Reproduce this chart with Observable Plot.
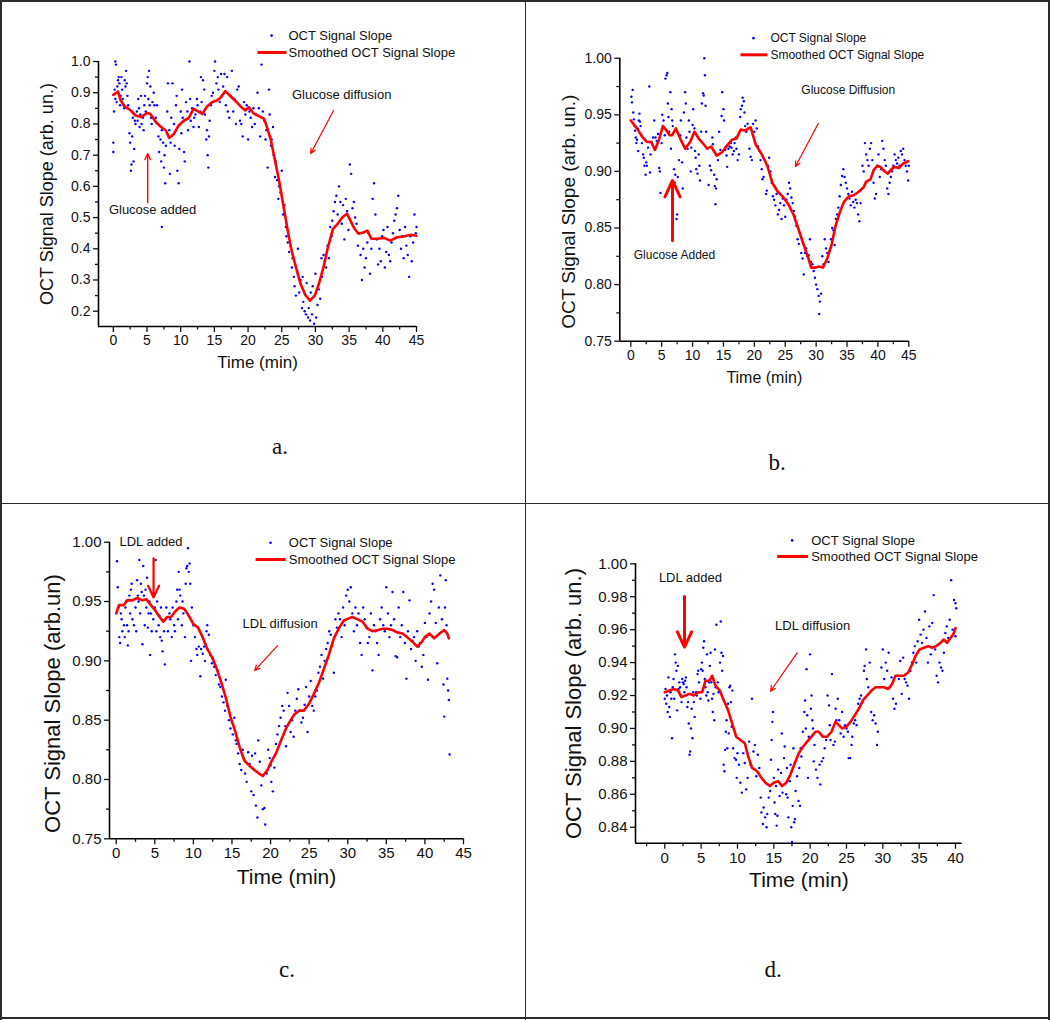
<!DOCTYPE html>
<html><head><meta charset="utf-8">
<script src="https://cdn.jsdelivr.net/npm/d3@7"></script>
<script src="https://cdn.jsdelivr.net/npm/@observablehq/plot@0.6"></script>
<style>
body{margin:0;background:#fff;}
#page{position:relative;width:1050px;height:1020px;background:#fff;overflow:hidden;}
.panel{position:absolute;}
.panel svg{display:block;overflow:visible;}
.rule{position:absolute;background:#2b2b2b;}
.tag{position:absolute;font-family:"Liberation Serif","Times New Roman",serif;font-size:23px;color:#111;transform:translate(-50%,-50%);white-space:nowrap;}
</style></head><body><div id="page"></div>
<script>
// ---------- DATA ----------
const seriesLabels = ["OCT Signal Slope", "Smoothed OCT Signal Slope"];
const xTitle = "Time (min)";
const yTitles = ["OCT Signal Slope (arb. un.)", "OCT Signal Slope (arb. un.)", "OCT Signal Slope (arb.un)", "OCT Signal Slope (arb. un.)"];
const panelTags = ["a.", "b.", "c.", "d."];

// Panel a: [time, value]
const aScatter = [[0.0,0.71],[0.0,0.74],[0.1,0.84],[0.2,0.91],[0.3,1.0],[0.4,0.99],[0.3,0.88],[0.5,0.87],[0.6,0.92],[0.7,0.94],[0.8,0.95],[0.9,0.93],[1.0,0.86],[1.1,0.89],[1.2,0.95],[1.3,0.91],[1.4,0.88],[1.5,0.86],[1.6,0.85],[1.7,0.94],[1.8,0.92],[1.9,0.97],[2.0,0.93],[2.1,0.89],[2.2,0.86],[2.4,0.77],[2.5,0.74],[2.6,0.65],[2.7,0.67],[2.8,0.76],[2.9,0.82],[3.0,0.68],[3.1,0.72],[3.2,0.81],[3.3,0.80],[3.5,0.84],[3.6,0.81],[3.7,0.88],[3.8,0.85],[3.9,0.79],[4.0,0.83],[4.1,0.89],[4.2,0.80],[4.4,0.82],[4.5,0.78],[4.6,0.86],[4.7,0.89],[4.8,0.84],[5.0,0.93],[5.1,0.95],[5.2,0.88],[5.3,0.97],[5.4,0.86],[5.5,0.92],[5.6,0.82],[5.7,0.80],[5.8,0.87],[6.0,0.90],[6.1,0.86],[6.3,0.82],[6.5,0.86],[6.7,0.76],[6.8,0.71],[7.0,0.75],[7.1,0.68],[7.2,0.78],[7.2,0.47],[7.4,0.74],[7.5,0.66],[7.6,0.70],[7.7,0.61],[7.8,0.73],[8.0,0.84],[8.1,0.93],[8.3,0.78],[8.4,0.64],[8.5,0.74],[8.6,0.82],[8.8,0.93],[9.0,0.80],[9.1,0.73],[9.3,0.86],[9.4,0.89],[9.5,0.65],[9.6,0.79],[9.7,0.61],[9.8,0.72],[10.0,0.84],[10.1,0.77],[10.2,0.91],[10.3,0.82],[10.5,0.71],[10.6,0.68],[10.8,0.87],[11.0,0.84],[11.1,0.78],[11.3,1.0],[11.4,0.88],[11.5,0.81],[11.7,0.85],[11.9,0.79],[12.0,0.82],[12.2,0.83],[12.4,0.88],[12.5,0.86],[12.7,0.79],[12.9,0.84],[13.0,0.95],[13.1,0.87],[13.3,0.94],[13.5,0.91],[13.6,0.83],[13.8,0.75],[13.9,0.78],[14.0,0.70],[14.1,0.66],[14.2,0.76],[14.3,0.81],[14.5,0.86],[14.6,0.89],[14.8,0.90],[15.0,0.97],[15.1,1.0],[15.3,0.93],[15.5,0.95],[15.6,0.91],[15.8,0.87],[16.0,0.96],[16.1,0.89],[16.3,0.92],[16.5,0.96],[16.7,0.86],[16.9,0.95],[17.0,0.84],[17.2,0.82],[17.4,0.89],[17.6,0.97],[17.8,0.84],[18.0,0.88],[18.2,0.80],[18.4,0.91],[18.6,0.92],[18.8,0.81],[19.0,0.80],[19.2,0.76],[19.4,0.87],[19.6,0.83],[19.8,0.86],[20.0,0.75],[20.2,0.84],[20.4,0.82],[20.6,0.79],[20.8,0.85],[21.0,0.80],[21.2,0.83],[21.4,0.90],[21.6,0.85],[21.8,0.76],[22.0,0.99],[22.2,0.84],[22.4,0.81],[22.6,0.75],[22.7,0.78],[22.9,0.66],[23.1,0.91],[23.2,0.83],[23.3,0.76],[23.4,0.73],[23.5,0.75],[23.7,0.79],[23.8,0.70],[24.0,0.63],[24.1,0.68],[24.3,0.62],[24.5,0.56],[24.6,0.60],[24.8,0.58],[25.0,0.65],[25.2,0.51],[25.4,0.54],[25.6,0.47],[25.7,0.44],[25.9,0.42],[26.1,0.39],[26.3,0.41],[26.5,0.34],[26.6,0.37],[26.8,0.31],[26.9,0.28],[27.1,0.25],[27.3,0.33],[27.4,0.40],[27.6,0.26],[27.8,0.30],[28.0,0.21],[28.1,0.31],[28.2,0.23],[28.4,0.20],[28.6,0.19],[28.7,0.29],[28.9,0.18],[29.0,0.21],[29.2,0.17],[29.3,0.26],[29.5,0.19],[29.6,0.28],[29.8,0.16],[30.0,0.32],[30.1,0.18],[30.3,0.22],[30.5,0.27],[30.7,0.24],[30.9,0.37],[31.0,0.31],[31.2,0.38],[31.4,0.36],[31.6,0.34],[31.8,0.41],[32.0,0.37],[32.2,0.47],[32.4,0.44],[32.5,0.49],[32.7,0.52],[32.9,0.55],[33.1,0.57],[33.3,0.51],[33.5,0.60],[33.7,0.55],[33.9,0.48],[34.1,0.54],[34.3,0.43],[34.5,0.56],[34.7,0.52],[34.9,0.46],[35.1,0.67],[35.3,0.64],[35.5,0.53],[35.7,0.55],[35.9,0.50],[36.1,0.48],[36.3,0.41],[36.5,0.45],[36.7,0.38],[36.9,0.30],[37.1,0.40],[37.3,0.34],[37.5,0.37],[37.7,0.42],[37.9,0.45],[38.1,0.32],[38.3,0.40],[38.5,0.56],[38.7,0.61],[38.9,0.51],[39.1,0.43],[39.3,0.35],[39.5,0.40],[39.7,0.36],[39.9,0.44],[40.1,0.46],[40.3,0.34],[40.5,0.39],[40.7,0.47],[40.9,0.38],[41.1,0.36],[41.3,0.42],[41.5,0.45],[41.7,0.49],[41.9,0.51],[42.1,0.53],[42.3,0.57],[42.5,0.46],[42.7,0.40],[42.9,0.44],[43.1,0.37],[43.3,0.47],[43.5,0.41],[43.7,0.38],[43.9,0.31],[44.1,0.44],[44.3,0.36],[44.5,0.42],[44.7,0.51],[44.9,0.45],[45.0,0.47]];
const aSmooth = [[0,0.893],[0.7,0.904],[1.1,0.875],[1.7,0.856],[2.6,0.843],[3.3,0.827],[4.1,0.822],[5.0,0.835],[5.5,0.832],[6.3,0.806],[7.0,0.792],[7.8,0.779],[8.3,0.755],[9.0,0.768],[9.7,0.795],[10.5,0.811],[11.2,0.819],[11.9,0.848],[12.5,0.841],[13.2,0.832],[13.9,0.856],[14.7,0.870],[15.4,0.875],[16.0,0.886],[16.6,0.905],[17.3,0.891],[18.2,0.872],[18.9,0.856],[19.6,0.843],[20.1,0.854],[20.8,0.834],[21.6,0.825],[22.4,0.816],[22.8,0.790],[23.4,0.747],[23.9,0.693],[24.6,0.619],[25.2,0.544],[25.8,0.469],[26.4,0.400],[27.1,0.341],[27.8,0.287],[28.5,0.252],[29.2,0.234],[29.9,0.250],[30.5,0.287],[31.2,0.341],[31.8,0.400],[32.6,0.464],[33.3,0.480],[34.0,0.501],[34.7,0.512],[35.2,0.490],[35.8,0.464],[36.4,0.448],[37.2,0.453],[37.7,0.458],[38.3,0.432],[39.2,0.432],[40.2,0.435],[41.1,0.426],[42.1,0.437],[43.1,0.439],[44.1,0.445],[45.0,0.442]];

// Panel b
const bScatter = [[0.1,0.966],[0.2,0.961],[0.3,0.972],[0.4,0.952],[0.5,0.946],[0.6,0.940],[0.7,0.936],[0.8,0.930],[0.9,0.925],[1.0,0.928],[1.1,0.938],[1.2,0.918],[1.3,0.945],[1.4,0.951],[1.5,0.944],[1.6,0.940],[1.7,0.932],[1.8,0.925],[2.0,0.915],[2.1,0.912],[2.2,0.905],[2.4,0.897],[2.5,0.908],[2.6,0.905],[2.8,0.921],[3.0,0.975],[3.1,0.899],[3.2,0.915],[3.4,0.926],[3.6,0.930],[3.8,0.945],[4.0,0.930],[4.2,0.927],[4.4,0.933],[4.6,0.903],[4.7,0.900],[4.8,0.881],[5.0,0.925],[5.1,0.950],[5.3,0.945],[5.5,0.932],[5.6,0.982],[5.8,0.985],[5.9,0.987],[6.0,0.960],[6.1,0.948],[6.2,0.935],[6.4,0.970],[6.5,0.920],[6.6,0.955],[6.7,0.945],[6.8,0.940],[7.0,0.902],[7.1,0.890],[7.2,0.897],[7.4,0.858],[7.5,0.862],[7.6,0.895],[7.8,0.910],[8.0,0.932],[8.1,0.945],[8.3,0.908],[8.4,0.885],[8.6,0.952],[8.8,0.970],[8.9,0.960],[9.0,0.930],[9.2,0.920],[9.4,0.945],[9.5,0.935],[9.7,0.900],[9.8,0.921],[10.0,0.941],[10.1,0.955],[10.3,0.938],[10.4,0.918],[10.5,0.912],[10.6,0.902],[10.8,0.898],[11.0,0.915],[11.1,0.905],[11.2,0.892],[11.4,0.935],[11.5,0.960],[11.7,0.969],[11.8,0.967],[11.9,1.000],[12.0,0.985],[12.1,0.958],[12.2,0.935],[12.4,0.920],[12.6,0.888],[12.8,0.905],[13.0,0.901],[13.2,0.930],[13.3,0.924],[13.5,0.897],[13.6,0.887],[13.7,0.871],[13.8,0.885],[13.9,0.893],[14.1,0.910],[14.3,0.935],[14.5,0.919],[14.7,0.949],[14.8,0.970],[15.0,0.955],[15.1,0.945],[15.3,0.919],[15.5,0.914],[15.6,0.904],[15.8,0.920],[16.0,0.922],[16.2,0.925],[16.3,0.921],[16.5,0.915],[16.7,0.918],[16.8,0.925],[17.0,0.930],[17.1,0.920],[17.3,0.910],[17.5,0.915],[17.7,0.948],[17.8,0.955],[18.0,0.958],[18.1,0.965],[18.3,0.962],[18.4,0.952],[18.5,0.940],[18.7,0.935],[18.9,0.942],[19.0,0.938],[19.2,0.920],[19.4,0.913],[19.6,0.910],[19.8,0.942],[20.0,0.935],[20.2,0.945],[20.4,0.938],[20.6,0.922],[20.8,0.918],[21.0,0.910],[21.2,0.902],[21.3,0.893],[21.5,0.895],[21.7,0.910],[21.9,0.880],[22.0,0.883],[22.2,0.905],[22.4,0.912],[22.6,0.900],[22.8,0.890],[23.0,0.878],[23.2,0.875],[23.4,0.870],[23.6,0.880],[23.8,0.862],[24.0,0.866],[24.2,0.872],[24.4,0.858],[24.6,0.876],[24.8,0.870],[25.0,0.860],[25.2,0.875],[25.4,0.880],[25.6,0.890],[25.8,0.885],[26.0,0.877],[26.2,0.872],[26.4,0.865],[26.6,0.860],[26.8,0.852],[27.0,0.840],[27.2,0.836],[27.4,0.845],[27.6,0.828],[27.8,0.823],[28.0,0.809],[28.2,0.828],[28.4,0.832],[28.6,0.825],[28.8,0.826],[29.0,0.840],[29.2,0.820],[29.4,0.818],[29.6,0.812],[29.8,0.806],[30.0,0.800],[30.2,0.796],[30.4,0.790],[30.5,0.774],[30.6,0.785],[30.8,0.792],[31.0,0.825],[31.2,0.818],[31.4,0.840],[31.6,0.832],[31.8,0.828],[32.0,0.820],[32.2,0.830],[32.4,0.840],[32.6,0.850],[32.8,0.848],[33.0,0.835],[33.2,0.858],[33.4,0.862],[33.6,0.868],[33.8,0.878],[34.0,0.888],[34.2,0.896],[34.4,0.902],[34.6,0.895],[34.8,0.890],[35.0,0.885],[35.2,0.880],[35.4,0.876],[35.6,0.870],[35.8,0.882],[36.0,0.873],[36.2,0.868],[36.4,0.875],[36.6,0.872],[36.8,0.862],[37.0,0.856],[37.2,0.872],[37.5,0.905],[37.7,0.900],[37.9,0.925],[38.1,0.915],[38.3,0.910],[38.5,0.905],[38.7,0.920],[38.9,0.925],[39.1,0.910],[39.3,0.890],[39.5,0.876],[39.7,0.880],[39.9,0.905],[40.1,0.915],[40.3,0.895],[40.5,0.902],[40.7,0.927],[40.9,0.920],[41.1,0.910],[41.3,0.905],[41.5,0.885],[41.7,0.880],[41.9,0.890],[42.1,0.895],[42.3,0.900],[42.5,0.905],[42.7,0.915],[42.9,0.910],[43.1,0.907],[43.3,0.912],[43.5,0.905],[43.7,0.918],[43.9,0.915],[44.1,0.920],[44.3,0.910],[44.5,0.905],[44.7,0.900],[44.9,0.892],[45.0,0.905]];
const bSmooth = [[0,0.945],[1.0,0.938],[1.8,0.931],[2.6,0.926],[3.3,0.926],[3.9,0.919],[4.5,0.927],[5.2,0.940],[5.8,0.936],[6.3,0.932],[6.7,0.932],[7.3,0.938],[8.0,0.929],[8.8,0.920],[9.6,0.926],[10.3,0.935],[11.0,0.929],[11.8,0.924],[12.4,0.920],[13.0,0.922],[13.9,0.914],[14.8,0.917],[15.6,0.923],[16.4,0.928],[17.1,0.929],[17.8,0.937],[18.5,0.936],[19.4,0.939],[20.2,0.924],[21.2,0.915],[22.1,0.905],[22.9,0.890],[23.8,0.882],[24.7,0.877],[25.6,0.870],[26.4,0.861],[27.2,0.848],[28.0,0.835],[28.7,0.824],[29.2,0.815],[29.9,0.815],[30.5,0.816],[31.1,0.815],[31.8,0.823],[32.5,0.835],[33.1,0.851],[33.9,0.865],[34.5,0.873],[35.3,0.878],[36.1,0.879],[36.9,0.882],[37.7,0.886],[38.1,0.891],[38.8,0.893],[39.3,0.901],[39.9,0.905],[40.4,0.904],[40.9,0.901],[41.6,0.898],[42.2,0.902],[42.7,0.904],[43.4,0.903],[44.1,0.907],[44.9,0.909]];

// Panel c
const cScatter = [[0.1,0.984],[0.2,0.962],[0.3,0.945],[0.4,0.920],[0.5,0.915],[0.6,0.940],[0.7,0.935],[0.8,0.925],[1.0,0.930],[1.1,0.920],[1.2,0.945],[1.3,0.950],[1.4,0.930],[1.5,0.913],[1.6,0.925],[1.7,0.955],[1.8,0.940],[1.9,0.960],[2.0,0.965],[2.1,0.935],[2.3,0.930],[2.4,0.952],[2.5,0.945],[2.6,0.925],[2.7,0.968],[2.8,0.955],[2.9,0.950],[3.0,0.985],[3.1,0.940],[3.2,0.965],[3.3,0.958],[3.4,0.914],[3.5,0.980],[3.6,0.955],[3.7,0.930],[3.8,0.960],[3.9,0.945],[4.0,0.970],[4.1,0.928],[4.2,0.940],[4.3,0.950],[4.4,0.905],[4.5,0.940],[4.6,0.925],[4.8,0.935],[4.9,0.955],[5.0,0.945],[5.1,0.985],[5.2,0.925],[5.3,0.950],[5.5,0.930],[5.6,0.938],[5.7,0.920],[5.8,0.945],[5.9,0.917],[6.0,0.908],[6.2,0.925],[6.3,0.897],[6.4,0.935],[6.5,0.945],[6.7,0.925],[6.9,0.940],[7.0,0.935],[7.2,0.920],[7.3,0.945],[7.5,0.930],[7.6,0.925],[7.8,0.950],[7.9,0.960],[8.0,0.935],[8.1,0.975],[8.2,0.960],[8.3,0.955],[8.5,0.930],[8.6,0.950],[8.7,0.940],[8.9,0.920],[9.0,0.965],[9.1,0.978],[9.2,0.980],[9.3,0.995],[9.4,0.975],[9.5,0.982],[9.6,0.965],[9.7,0.900],[9.8,0.945],[10.0,0.930],[10.2,0.920],[10.4,0.910],[10.5,0.905],[10.7,0.912],[10.9,0.887],[11.0,0.910],[11.2,0.906],[11.4,0.912],[11.5,0.900],[11.7,0.925],[11.8,0.930],[12.0,0.922],[12.2,0.905],[12.4,0.898],[12.5,0.902],[12.7,0.895],[12.9,0.888],[13.1,0.892],[13.3,0.880],[13.5,0.878],[13.7,0.870],[13.9,0.865],[14.1,0.858],[14.2,0.884],[14.4,0.862],[14.6,0.850],[14.8,0.843],[15.0,0.848],[15.1,0.838],[15.3,0.852],[15.5,0.833],[15.6,0.830],[15.8,0.822],[16.0,0.813],[16.2,0.808],[16.4,0.825],[16.5,0.818],[16.7,0.805],[16.9,0.798],[17.1,0.823],[17.3,0.813],[17.5,0.790],[17.6,0.820],[17.8,0.787],[18.0,0.822],[18.1,0.778],[18.3,0.768],[18.4,0.833],[18.6,0.815],[18.8,0.795],[19.0,0.775],[19.2,0.776],[19.3,0.762],[19.5,0.805],[19.7,0.825],[19.9,0.818],[20.0,0.812],[20.1,0.798],[20.3,0.790],[20.5,0.810],[20.7,0.830],[20.9,0.838],[21.1,0.845],[21.3,0.852],[21.5,0.862],[21.7,0.858],[21.9,0.845],[22.0,0.828],[22.2,0.873],[22.4,0.862],[22.6,0.840],[22.8,0.850],[23.0,0.836],[23.2,0.858],[23.4,0.868],[23.6,0.876],[23.8,0.858],[24.0,0.848],[24.2,0.852],[24.4,0.863],[24.6,0.878],[24.8,0.840],[25.0,0.870],[25.2,0.883],[25.4,0.862],[25.6,0.858],[25.8,0.870],[26.0,0.875],[26.2,0.890],[26.4,0.895],[26.6,0.905],[26.8,0.885],[27.0,0.900],[27.2,0.910],[27.4,0.915],[27.6,0.925],[27.8,0.922],[28.0,0.913],[28.2,0.890],[28.4,0.935],[28.6,0.928],[28.8,0.940],[29.0,0.935],[29.2,0.920],[29.4,0.945],[29.6,0.930],[29.8,0.955],[30.0,0.960],[30.2,0.950],[30.4,0.962],[30.6,0.940],[30.8,0.925],[31.0,0.945],[31.2,0.930],[31.4,0.940],[31.6,0.915],[31.8,0.905],[32.0,0.945],[32.2,0.935],[32.4,0.928],[32.6,0.915],[32.8,0.920],[33.0,0.940],[33.2,0.892],[33.4,0.930],[33.6,0.925],[33.8,0.915],[34.0,0.905],[34.2,0.935],[34.4,0.945],[34.6,0.930],[34.8,0.925],[35.0,0.962],[35.2,0.940],[35.4,0.920],[35.6,0.930],[35.8,0.958],[36.0,0.935],[36.2,0.904],[36.4,0.903],[36.6,0.945],[36.8,0.920],[37.0,0.930],[37.2,0.958],[37.4,0.915],[37.6,0.885],[37.8,0.925],[38.0,0.951],[38.2,0.910],[38.4,0.917],[38.6,0.920],[38.8,0.900],[39.0,0.925],[39.2,0.912],[39.4,0.915],[39.6,0.895],[39.8,0.905],[40.0,0.932],[40.2,0.920],[40.4,0.884],[40.6,0.940],[40.8,0.950],[41.0,0.965],[41.2,0.960],[41.4,0.932],[41.6,0.898],[41.8,0.945],[42.0,0.972],[42.2,0.935],[42.4,0.880],[42.5,0.853],[42.6,0.945],[42.7,0.968],[42.8,0.930],[42.9,0.885],[43.0,0.875],[43.1,0.867],[43.2,0.821]];
const cSmooth = [[0,0.940],[0.35,0.947],[1.0,0.947],[1.4,0.951],[2.1,0.951],[2.7,0.953],[3.4,0.951],[3.9,0.952],[4.5,0.947],[5.0,0.943],[5.5,0.938],[6.1,0.933],[6.6,0.937],[7.1,0.937],[7.7,0.942],[8.2,0.945],[8.8,0.944],[9.4,0.938],[10.0,0.931],[10.6,0.928],[11.2,0.920],[11.8,0.910],[12.5,0.902],[13.1,0.892],[13.6,0.882],[14.2,0.869],[14.8,0.853],[15.4,0.841],[16.0,0.827],[16.6,0.816],[17.2,0.812],[17.9,0.808],[18.5,0.805],[19.0,0.803],[19.6,0.808],[20.1,0.815],[20.7,0.822],[21.3,0.832],[22.0,0.843],[22.6,0.850],[23.1,0.855],[23.7,0.858],[24.3,0.858],[25.0,0.864],[25.6,0.872],[26.3,0.882],[26.9,0.893],[27.6,0.906],[28.2,0.919],[28.9,0.928],[29.5,0.934],[30.2,0.936],[30.6,0.937],[31.3,0.935],[31.9,0.933],[32.6,0.927],[33.2,0.925],[33.9,0.926],[34.5,0.927],[35.1,0.927],[35.8,0.926],[36.4,0.924],[37.1,0.923],[37.7,0.920],[38.4,0.916],[39.0,0.912],[39.6,0.916],[40.0,0.920],[40.6,0.923],[41.2,0.919],[41.9,0.923],[42.5,0.926],[42.9,0.923],[43.1,0.919]];

// Panel d
const dScatter = [[0.0,0.918],[0.1,0.924],[0.2,0.915],[0.3,0.920],[0.4,0.910],[0.5,0.931],[0.6,0.913],[0.7,0.907],[0.8,0.922],[0.9,0.918],[1.0,0.894],[1.1,0.925],[1.2,0.930],[1.3,0.918],[1.4,0.945],[1.5,0.940],[1.6,0.935],[1.7,0.911],[1.8,0.938],[1.9,0.924],[2.0,0.928],[2.1,0.925],[2.2,0.920],[2.3,0.916],[2.4,0.930],[2.5,0.928],[2.6,0.927],[2.7,0.922],[2.8,0.929],[2.9,0.931],[3.0,0.925],[3.1,0.913],[3.2,0.916],[3.3,0.903],[3.4,0.884],[3.5,0.886],[3.6,0.900],[3.7,0.912],[3.8,0.894],[3.9,0.922],[4.0,0.916],[4.1,0.907],[4.3,0.922],[4.4,0.920],[4.5,0.933],[4.6,0.935],[4.7,0.928],[4.8,0.922],[4.9,0.918],[5.0,0.936],[5.1,0.940],[5.2,0.935],[5.3,0.949],[5.4,0.953],[5.5,0.930],[5.6,0.925],[5.7,0.920],[5.8,0.945],[5.9,0.922],[6.0,0.917],[6.1,0.928],[6.2,0.938],[6.3,0.946],[6.4,0.928],[6.5,0.918],[6.6,0.910],[6.7,0.921],[6.8,0.905],[6.9,0.948],[7.0,0.925],[7.1,0.963],[7.3,0.928],[7.4,0.922],[7.6,0.940],[7.7,0.965],[7.8,0.946],[7.9,0.935],[8.0,0.944],[8.1,0.878],[8.2,0.874],[8.3,0.887],[8.4,0.898],[8.5,0.905],[8.6,0.888],[8.7,0.915],[8.8,0.897],[8.9,0.925],[9.0,0.926],[9.1,0.916],[9.2,0.901],[9.3,0.923],[9.4,0.888],[9.6,0.882],[9.8,0.881],[9.9,0.870],[10.0,0.885],[10.2,0.878],[10.4,0.867],[10.6,0.861],[10.8,0.885],[11.0,0.879],[11.2,0.863],[11.4,0.870],[11.6,0.892],[11.8,0.878],[12.0,0.918],[12.2,0.886],[12.4,0.890],[12.6,0.871],[12.8,0.884],[13.0,0.876],[13.2,0.858],[13.3,0.849],[13.5,0.842],[13.6,0.852],[13.8,0.846],[14.0,0.840],[14.1,0.848],[14.3,0.858],[14.5,0.862],[14.6,0.881],[14.7,0.893],[14.8,0.904],[14.9,0.910],[15.0,0.870],[15.1,0.855],[15.2,0.848],[15.3,0.865],[15.4,0.841],[15.5,0.847],[15.6,0.875],[15.8,0.859],[16.0,0.873],[16.1,0.897],[16.2,0.861],[16.4,0.882],[16.5,0.889],[16.7,0.860],[16.8,0.876],[16.9,0.858],[17.0,0.846],[17.2,0.868],[17.3,0.878],[17.4,0.840],[17.5,0.831],[17.6,0.853],[17.7,0.888],[17.8,0.843],[17.9,0.845],[18.0,0.862],[18.2,0.871],[18.4,0.856],[18.5,0.876],[18.6,0.853],[18.7,0.888],[18.8,0.883],[19.0,0.898],[19.2,0.910],[19.3,0.917],[19.4,0.900],[19.5,0.936],[19.6,0.908],[19.7,0.870],[19.8,0.895],[20.0,0.945],[20.1,0.912],[20.2,0.920],[20.3,0.905],[20.4,0.900],[20.5,0.880],[20.6,0.890],[20.8,0.875],[21.0,0.870],[21.1,0.898],[21.3,0.878],[21.4,0.866],[21.6,0.880],[21.8,0.882],[22.0,0.888],[22.2,0.893],[22.4,0.920],[22.6,0.914],[22.7,0.902],[22.8,0.893],[23.0,0.933],[23.2,0.890],[23.4,0.892],[23.5,0.912],[23.6,0.905],[23.8,0.918],[24.0,0.905],[24.2,0.897],[24.4,0.910],[24.6,0.895],[24.8,0.902],[25.0,0.900],[25.2,0.898],[25.3,0.882],[25.5,0.882],[25.7,0.890],[25.8,0.895],[26.0,0.903],[26.2,0.905],[26.4,0.902],[26.6,0.915],[26.8,0.918],[27.0,0.920],[27.2,0.916],[27.4,0.935],[27.5,0.938],[27.7,0.948],[27.8,0.930],[28.0,0.925],[28.2,0.940],[28.4,0.910],[28.6,0.905],[28.8,0.908],[29.0,0.903],[29.2,0.890],[29.3,0.898],[29.6,0.925],[29.8,0.937],[30.0,0.948],[30.2,0.930],[30.4,0.940],[30.6,0.935],[30.8,0.946],[31.0,0.925],[31.2,0.931],[31.4,0.918],[31.6,0.912],[31.8,0.915],[32.0,0.932],[32.2,0.930],[32.4,0.941],[32.6,0.921],[32.8,0.943],[33.0,0.930],[33.2,0.928],[33.4,0.926],[33.6,0.918],[33.8,0.935],[34.0,0.940],[34.2,0.946],[34.4,0.950],[34.6,0.940],[34.8,0.953],[35.0,0.966],[35.2,0.957],[35.4,0.952],[35.6,0.960],[35.8,0.971],[36.0,0.955],[36.2,0.940],[36.4,0.962],[36.6,0.945],[36.8,0.964],[37.0,0.981],[37.2,0.948],[37.4,0.932],[37.6,0.928],[37.8,0.940],[38.0,0.937],[38.2,0.935],[38.4,0.946],[38.6,0.958],[38.8,0.962],[39.0,0.955],[39.2,0.966],[39.4,0.990],[39.6,0.960],[39.8,0.978],[40.0,0.976],[40.1,0.973],[40.0,0.956]];
const dSmooth = [[0,0.922],[0.64,0.923],[1.24,0.924],[1.83,0.923],[2.29,0.919],[2.84,0.920],[3.39,0.921],[3.99,0.920],[4.59,0.922],[5.14,0.922],[5.60,0.929],[6.15,0.929],[6.51,0.932],[6.97,0.926],[7.57,0.923],[8.12,0.917],[8.72,0.911],[9.27,0.903],[9.82,0.895],[10.41,0.893],[11.01,0.891],[11.47,0.883],[12.02,0.876],[12.71,0.874],[13.30,0.870],[13.85,0.867],[14.45,0.865],[15.00,0.867],[15.60,0.868],[16.15,0.865],[16.70,0.867],[17.29,0.872],[17.89,0.879],[18.44,0.885],[19.04,0.889],[19.59,0.892],[20.18,0.895],[20.73,0.898],[21.19,0.898],[21.74,0.895],[22.34,0.895],[22.94,0.898],[23.49,0.904],[23.94,0.902],[24.40,0.900],[24.95,0.901],[25.55,0.904],[26.15,0.908],[26.70,0.912],[27.25,0.917],[27.84,0.920],[28.44,0.923],[28.99,0.925],[29.59,0.925],[30.14,0.925],[30.73,0.924],[31.28,0.927],[31.74,0.932],[32.29,0.932],[32.89,0.932],[33.49,0.934],[34.04,0.939],[34.50,0.944],[35.05,0.948],[35.64,0.949],[36.24,0.950],[36.79,0.949],[37.34,0.950],[37.94,0.952],[38.39,0.954],[38.85,0.952],[39.31,0.955],[39.68,0.957],[40.0,0.961]];

// Annotations (data coordinates): [text, x, y]
const aNotes = [["Glucose diffusion", 33.9, 0.894], ["Glucose added", 5.83, 0.526]];
const aArrows = [[32.7, 0.843, 29.3, 0.705, 1.2], [5.1, 0.548, 5.1, 0.705, 1.4]];
const bNotes = [["Glucose Diffusion", 35.2, 0.9715], ["Glucose Added", 7.07, 0.8257]];
const bArrows = [[30.35, 0.9423, 26.65, 0.9043, 1.2], [6.75, 0.839, 6.75, 0.892, 3]];
const cNotes = [["LDL added", 4.51, 1.0], ["LDL diffusion", 21.24, 0.9314]];
const cArrows = [[4.84, 0.9863, 4.84, 0.9534, 2.2], [20.9, 0.9129, 17.94, 0.8918, 1.2]];
const dNotes = [["LDL added", 3.53, 0.9915], ["LDL diffusion", 20.34, 0.9621]];
const dArrows = [[2.71, 0.9801, 2.71, 0.9494, 3], [18.21, 0.9459, 14.54, 0.9226, 1.2]];

// Legend anchor positions (data coords): dot, line start/end, text x, rows y
const aLegend = {dot: [23.5, 1.083], line: [21.4, 25.7, 1.029], textX: 26.0, rowY: [1.083, 1.029]};
const bLegend = {dot: [19.86, 1.0177], line: [17.76, 22.13, 1.003], textX: 22.6, rowY: [1.0177, 1.003]};
const cLegend = {dot: [20.0, 0.9995], line: [18.06, 21.96, 0.9854], textX: 22.36, rowY: [0.9995, 0.9854]};
const dLegend = {dot: [17.52, 1.0142], line: [15.46, 19.72, 1.00446], textX: 20.14, rowY: [1.0142, 1.00446]};

// Ticks
const xTicks45 = [0,5,10,15,20,25,30,35,40,45];
const xMinor45 = [2.5,7.5,12.5,17.5,22.5,27.5,32.5,37.5,42.5];
const xTicks40 = [0,5,10,15,20,25,30,35,40];
const xMinor40 = [-2.5,2.5,7.5,12.5,17.5,22.5,27.5,32.5,37.5];
const aYTicks = [0.2,0.3,0.4,0.5,0.6,0.7,0.8,0.9,1.0];
const aYMinor = [0.25,0.35,0.45,0.55,0.65,0.75,0.85,0.95];
const bcYTicks = [0.75,0.80,0.85,0.90,0.95,1.00];
const bcYMinor = [0.775,0.825,0.875,0.925,0.975];
const dYTicks = [0.84,0.86,0.88,0.90,0.92,0.94,0.96,0.98,1.00];
const dYMinor = [0.85,0.87,0.89,0.91,0.93,0.95,0.97,0.99];

// ---------- DRAW ----------
const FONT = '"Liberation Sans", Arial, Helvetica, sans-serif';
const page = document.getElementById("page");

function drawPanel(c) {
  const [x0] = c.xDomain, [y0] = c.yDomain;
  const L = c.legend;
  const chart = Plot.plot({
    width: 525, height: c.height,
    marginLeft: c.m[0], marginRight: c.m[1], marginTop: c.m[2], marginBottom: c.m[3],
    x: {domain: c.xDomain},
    y: {domain: c.yDomain},
    style: {fontFamily: FONT, background: "transparent", overflow: "visible", color: "#111"},
    marks: [
      Plot.axisX({ticks: c.xTicks, tickSize: 6, tickPadding: 3, tickFormat: d3.format("d"), fontSize: c.tickFont, label: null, strokeWidth: 1.3, color: "#111"}),
      Plot.axisX({ticks: c.xMinor.filter(v => v >= x0), tickSize: 3.5, tickFormat: () => "", label: null, strokeWidth: 1.3}),
      Plot.axisY({ticks: c.yTicks, tickSize: 5, tickPadding: 3, tickFormat: d3.format(c.yFmt), fontSize: c.tickFont, label: null, strokeWidth: 1.3, color: "#111"}),
      Plot.axisY({ticks: c.yMinor, tickSize: 3, tickFormat: () => "", label: null, strokeWidth: 1.3}),
      Plot.ruleX([x0], {strokeWidth: 1.6, stroke: "#000"}),
      Plot.ruleY([y0], {strokeWidth: 1.6, stroke: "#000"}),
      Plot.text([xTitle], {text: d => d, frameAnchor: "bottom", textAnchor: "middle", dy: c.xTitlePos, fontSize: c.xTitleFont, fill: "#111"}),
      Plot.text([c.yTitle], {text: d => d, frameAnchor: "left", textAnchor: "middle", lineAnchor: "middle", dx: c.yTitlePos[0], dy: c.yTitlePos[1], rotate: -90, fontSize: c.yTitleFont, fill: "#111"}),
      Plot.dot(c.scatter, {x: d => d[0], y: d => d[1], r: 1.2, fill: "#0000ff", stroke: null}),
      Plot.line(c.smooth, {x: d => d[0], y: d => d[1], stroke: "#ff0000", strokeWidth: 2.6}),
      ...c.arrows.map(a => Plot.arrow([a], {x1: d => d[0], y1: d => d[1], x2: d => d[2], y2: d => d[3], stroke: "#ff0000", strokeWidth: a[4], headLength: a[4] > 2 ? 9 : 7, headAngle: 50})),
      Plot.text(c.notes, {x: d => d[1], y: d => d[2], text: d => d[0], fontSize: c.noteFont, fill: "#111"}),
      Plot.dot([L.dot], {x: d => d[0], y: d => d[1], r: 1.3, fill: "#0000ff", stroke: null}),
      Plot.link([L.line], {x1: d => d[0], x2: d => d[1], y1: d => d[2], y2: d => d[2], stroke: "#ff0000", strokeWidth: 3}),
      Plot.text(seriesLabels.map((s, i) => [s, L.textX, L.rowY[i]]), {x: d => d[1], y: d => d[2], text: d => d[0], textAnchor: "start", fontSize: c.legendFont, fill: "#111"})
    ]
  });
  const div = document.createElement("div");
  div.className = "panel";
  div.style.left = c.left + "px";
  div.style.top = c.top + "px";
  div.appendChild(chart);
  page.appendChild(div);
}

drawPanel({left: 0, top: 0, height: 503, m: [98, 109, 61, 177], xDomain: [-2.2, 45], yDomain: [0.151, 1.0],
  xTicks: xTicks45, xMinor: xMinor45, yTicks: aYTicks, yMinor: aYMinor, yFmt: ".1f", tickFont: 14,
  xTitlePos: 41, xTitleFont: 17, yTitle: yTitles[0], yTitlePos: [-51, 0], yTitleFont: 18,
  scatter: aScatter, smooth: aSmooth, notes: aNotes, arrows: aArrows, noteFont: 13, legend: aLegend, legendFont: 13});
drawPanel({left: 525, top: 0, height: 503, m: [94.3, 141.7, 57.7, 162.3], xDomain: [-1.78, 45], yDomain: [0.75, 1.0],
  xTicks: xTicks45, xMinor: xMinor45, yTicks: bcYTicks, yMinor: bcYMinor, yFmt: ".2f", tickFont: 14,
  xTitlePos: 42, xTitleFont: 16, yTitle: yTitles[1], yTitlePos: [-51, 12], yTitleFont: 19,
  scatter: bScatter, smooth: bSmooth, notes: bNotes, arrows: bArrows, noteFont: 12, legend: bLegend, legendFont: 12});
drawPanel({left: 0, top: 503, height: 517, m: [109, 62, 38.7, 181.7], xDomain: [-0.87, 45], yDomain: [0.75, 1.0],
  xTicks: xTicks45, xMinor: xMinor45, yTicks: bcYTicks, yMinor: bcYMinor, yFmt: ".2f", tickFont: 15,
  xTitlePos: 45, xTitleFont: 21, yTitle: yTitles[2], yTitlePos: [-57, 13], yTitleFont: 22,
  scatter: cScatter, smooth: cSmooth, notes: cNotes, arrows: cArrows, noteFont: 13, legend: cLegend, legendFont: 13});
drawPanel({left: 525, top: 503, height: 517, m: [110, 88.3, 60.3, 177.3], xDomain: [-4.03, 40.92], yDomain: [0.8303, 1.0],
  xTicks: xTicks40, xMinor: xMinor40, yTicks: dYTicks, yMinor: dYMinor, yFmt: ".2f", tickFont: 15,
  xTitlePos: 44, xTitleFont: 21, yTitle: yTitles[3], yTitlePos: [-62, 0], yTitleFont: 22,
  scatter: dScatter, smooth: dSmooth, notes: dNotes, arrows: dArrows, noteFont: 13, legend: dLegend, legendFont: 13});

// Panel tags
[[280, 447], [777, 463], [287, 970], [773, 970]].forEach(([x, y], i) => {
  const t = document.createElement("div");
  t.className = "tag"; t.textContent = panelTags[i];
  t.style.left = x + "px"; t.style.top = y + "px";
  page.appendChild(t);
});

// Frame rules
[[0, 0, 1050, 1.6], [0, 1017, 1050, 1.6], [0, 502.9, 1050, 1.6]].forEach(([x, y, w, h]) => {
  const r = document.createElement("div"); r.className = "rule";
  Object.assign(r.style, {left: x + "px", top: y + "px", width: w + "px", height: h + "px"}); page.appendChild(r);
});
[[0, 0, 1.6, 1020], [1048, 0, 1.6, 1020], [524.5, 0, 1.6, 1020]].forEach(([x, y, w, h]) => {
  const r = document.createElement("div"); r.className = "rule";
  Object.assign(r.style, {left: x + "px", top: y + "px", width: w + "px", height: h + "px"}); page.appendChild(r);
});
</script></body></html>
